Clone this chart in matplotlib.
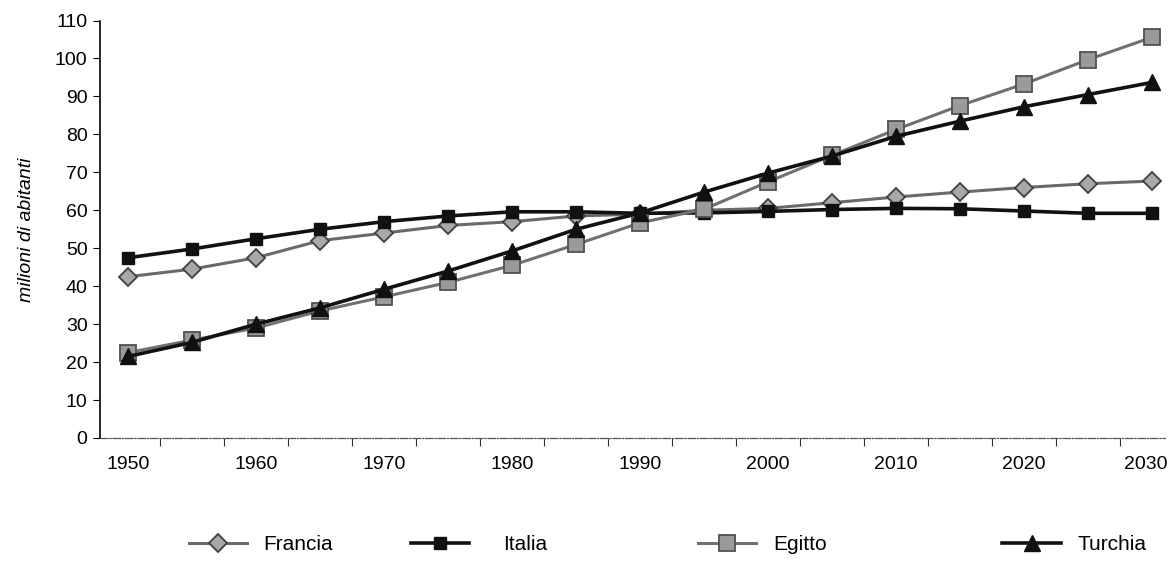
import matplotlib.pyplot as plt
from matplotlib.lines import Line2D
from matplotlib.transforms import ScaledTranslation

plt.rcParams['font.family'] = ['Liberation Sans', 'DejaVu Sans']

# anni (ogni 5 anni)
anni = [1950, 1955, 1960, 1965, 1970, 1975, 1980, 1985, 1990,
        1995, 2000, 2005, 2010, 2015, 2020, 2025, 2030]

# milioni di abitanti
francia = [42.5, 44.5, 47.5, 52, 54, 56, 57, 58.5, 59,
           60, 60.5, 62, 63.5, 64.8, 66, 67, 67.7]
italia = [47.5, 49.8, 52.5, 55, 57, 58.5, 59.6, 59.6, 59.2,
          59.3, 59.7, 60.2, 60.5, 60.4, 59.8, 59.2, 59.2]
egitto = [22.5, 25.8, 29, 33.5, 37.2, 41, 45.5, 51, 56.7,
          60.3, 67.5, 74.5, 81.3, 87.6, 93.3, 99.7, 105.6]
turchia = [21.5, 25.2, 30, 34.3, 39.2, 44, 49.3, 55, 59.3,
           64.8, 69.8, 74.3, 79.5, 83.5, 87.3, 90.5, 93.7]

nomi = ['Francia', 'Italia', 'Egitto', 'Turchia']

fig = plt.figure(figsize=(11.71, 5.70), dpi=100)
ax = fig.add_axes([100 / 1171, 1 - 438 / 570, 1065 / 1171, 417.5 / 570])

stili = {
    'Francia': dict(color='#6a6a6a', lw=2.2, marker='D', ms=9, mfc='#a8a8a8', mec='#404040', mew=1.3),
    'Italia': dict(color='#111111', lw=2.6, marker='s', ms=9, mfc='#111111', mec='#111111'),
    'Egitto': dict(color='#707070', lw=2.2, marker='s', ms=11, mfc='#9a9a9a', mec='#505050', mew=1.3),
    'Turchia': dict(color='#111111', lw=2.6, marker='^', ms=11, mfc='#111111', mec='#111111'),
}

for nome, valori in zip(nomi, [francia, italia, egitto, turchia]):
    ax.plot(anni, valori, **stili[nome], zorder=3)

ax.set_xlim(1947.8, 2031.0)
ax.set_ylim(0, 110)
ax.set_yticks(range(0, 111, 10))
ax.tick_params(axis='y', direction='out', length=5, labelsize=14, pad=4)

# tacche tra le categorie, etichette ogni 10 anni
ax.set_xticks([a + 2.5 for a in anni[:-1]])
ax.set_xticklabels([])
ax.set_xticks(anni[::2], minor=True)
ax.set_xticklabels([str(a) for a in anni[::2]], minor=True)
ax.tick_params(axis='x', which='major', direction='out', length=6, color='#333333')
ax.tick_params(axis='x', which='minor', length=0, labelsize=14, pad=13)

# l'ultima etichetta spostata un poco a sinistra per restare nel bordo
ultima = ax.xaxis.get_minorticklabels()[-1]
ultima.set_transform(ultima.get_transform() + ScaledTranslation(-6 / 100, 0, fig.dpi_scale_trans))

for lato in ['top', 'right']:
    ax.spines[lato].set_visible(False)
ax.spines['left'].set_linewidth(1.2)
ax.spines['bottom'].set_color('#555555')
ax.spines['bottom'].set_linewidth(0.9)
ax.spines['bottom'].set_linestyle((0, (6, 1.5, 1, 1.5)))

ax.set_ylabel('milioni di abitanti', fontsize=14, style='italic', labelpad=14)

# legenda in basso, una voce per colonna
posizioni = [0.145, 0.335, 0.58, 0.84]
for nome, px in zip(nomi, posizioni):
    h = Line2D([], [], **stili[nome])
    fig.legend([h], [nome], loc='center left', bbox_to_anchor=(px, 0.045),
               frameon=False, fontsize=15, handlelength=2.8,
               handletextpad=1.6 if nome == 'Italia' else 0.8)

fig.savefig('out.png', dpi=100)
